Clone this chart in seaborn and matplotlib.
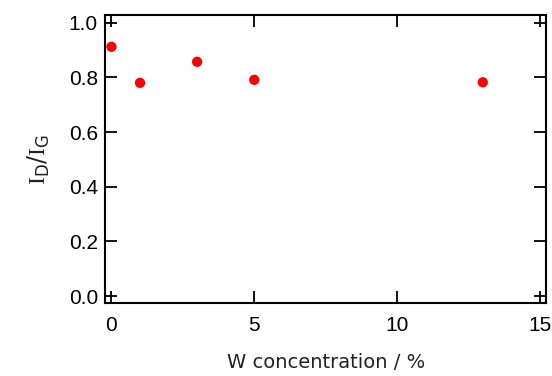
import numpy as np
import pandas as pd
import seaborn as sns
import matplotlib.pyplot as plt

# dados
w_conc = [0, 1, 3, 5, 13]
id_ig = [0.912, 0.780, 0.857, 0.791, 0.782]
xticks = [0, 5, 10, 15]
yticks = [0.0, 0.2, 0.4, 0.6, 0.8, 1.0]

df = pd.DataFrame({'w': w_conc, 'ratio': id_ig})

sns.set_theme(style="ticks")
plt.rcParams['font.family'] = ['Liberation Sans', 'DejaVu Sans']
plt.rcParams['text.color'] = 'black'
plt.rcParams['axes.labelcolor'] = 'black'
plt.rcParams['mathtext.fontset'] = 'custom'
plt.rcParams['mathtext.rm'] = 'Liberation Serif'
plt.rcParams['mathtext.sf'] = 'DejaVu Sans'

fig = plt.figure(figsize=(5.52, 3.76), dpi=100)
ax = fig.add_axes([0.190, 0.193, 0.800, 0.767])

sns.scatterplot(data=df, x='w', y='ratio', ax=ax, color='#ff0000',
                s=55, edgecolor='none', zorder=3)

ax.set_xlim(-0.23, 15.23)
ax.set_ylim(-0.027, 1.028)
ax.set_xticks(xticks)
ax.set_yticks(yticks)
ax.set_yticklabels([f'{v:.1f}' for v in yticks])

for s in ax.spines.values():
    s.set_linewidth(1.5)
    s.set_color('black')
ax.tick_params(direction='in', length=8.5, width=1.3, top=True, right=True,
               labelsize=15, colors='black', pad=5)
ax.tick_params(axis='x', pad=9)

ax.set_xlabel('W concentration / %', fontsize=14, family='DejaVu Sans',
              color='#222222', labelpad=13)
ax.set_ylabel(r'$\mathrm{I}_{\mathsf{D}}\mathsf{/}\mathrm{I}_{\mathsf{G}}$', fontsize=17,
              color='#222222', labelpad=12)

fig.savefig('out.png', dpi=100)
